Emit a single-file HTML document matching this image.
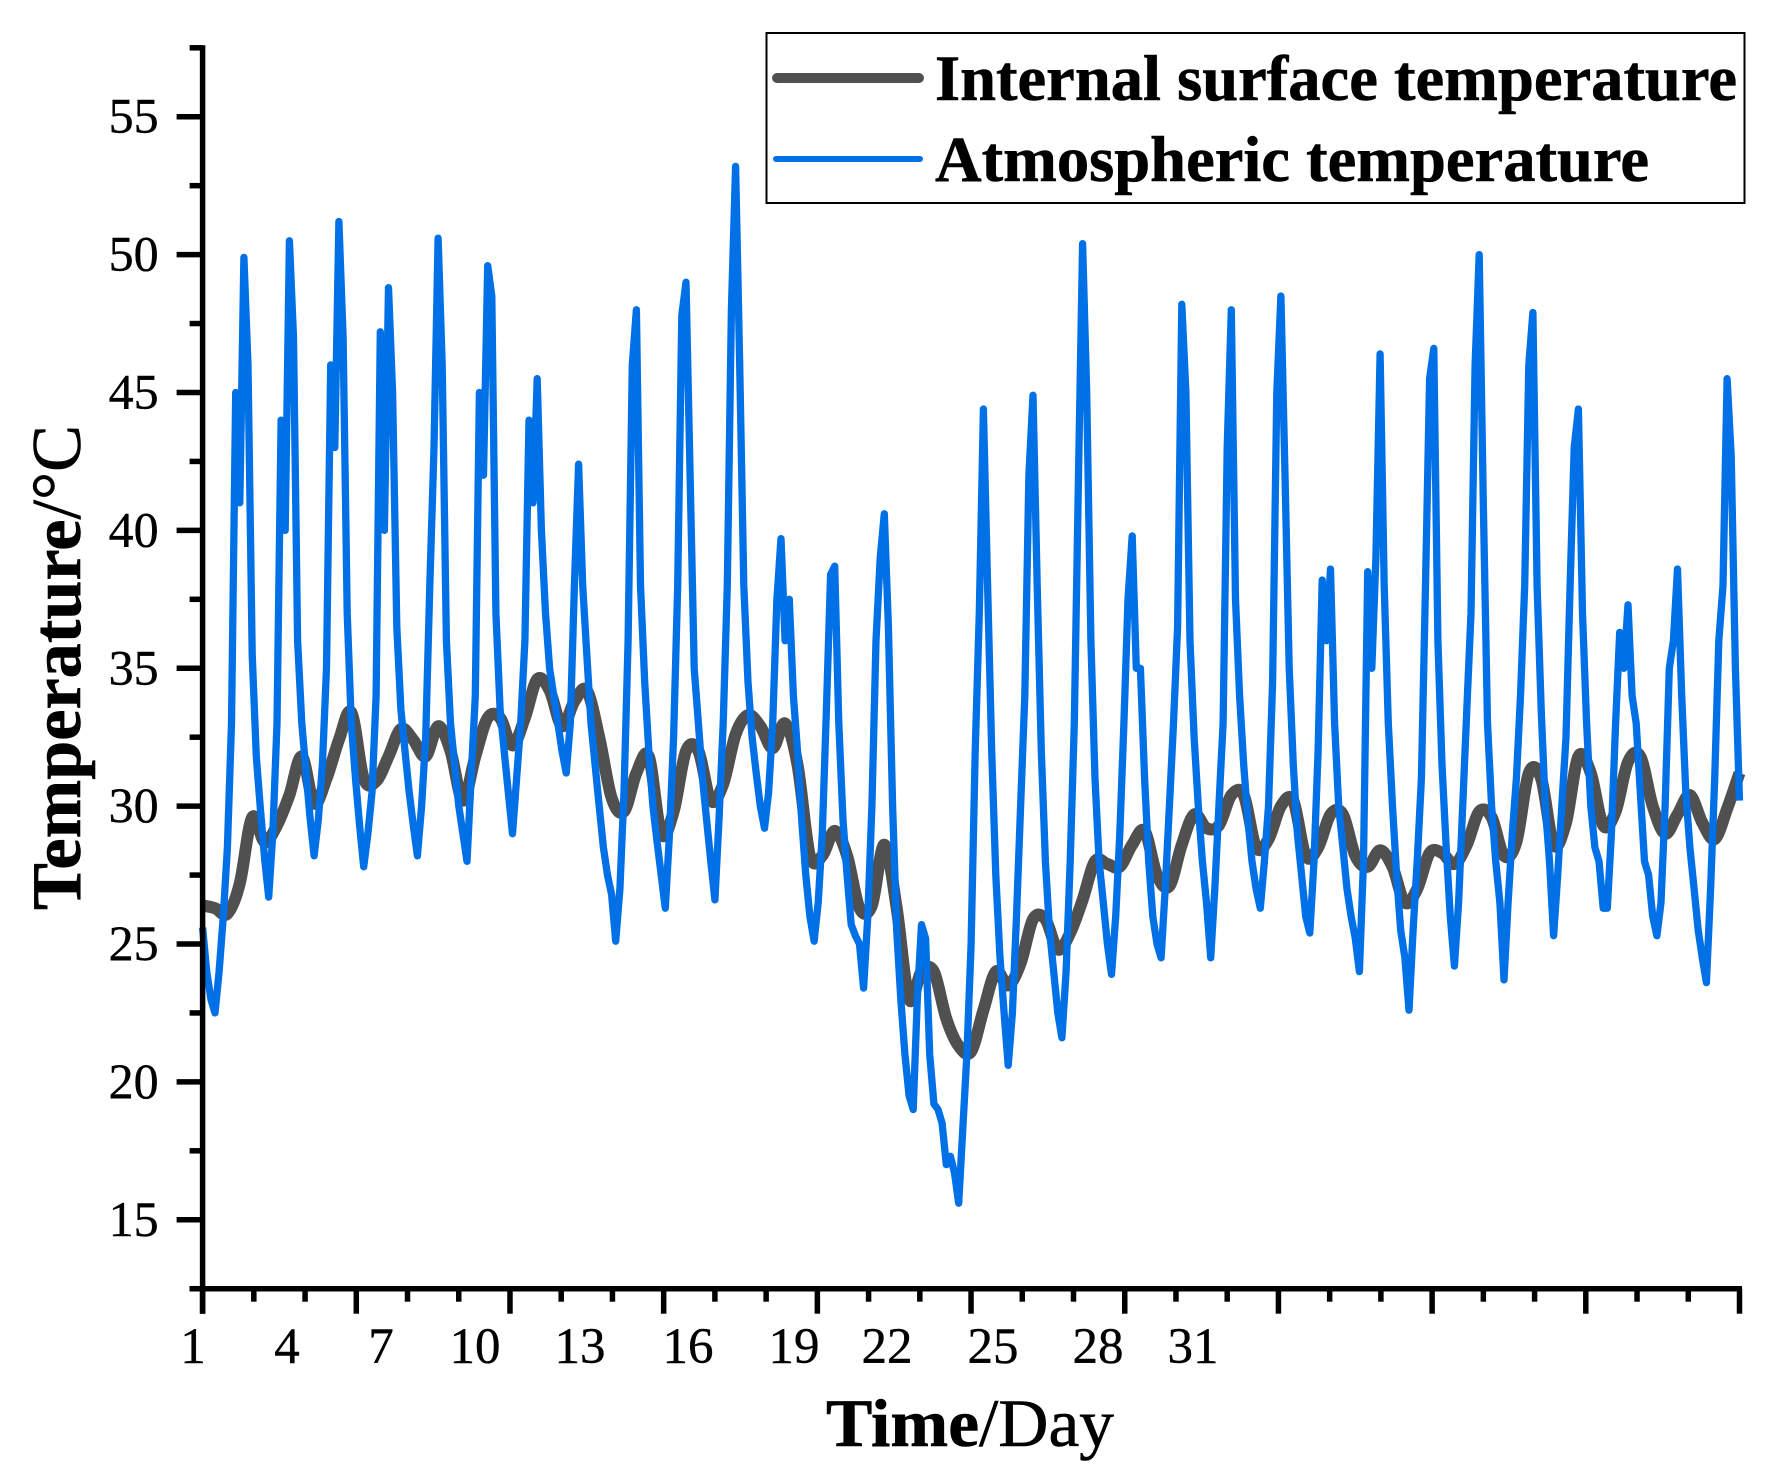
<!DOCTYPE html>
<html lang="en">
<head>
<meta charset="utf-8">
<title>Temperature chart</title>
<style>
html,body{margin:0;padding:0;background:#fff;}
svg{display:block;font-family:"Liberation Serif",serif;}
</style>
</head>
<body>
<svg id="chart" xmlns="http://www.w3.org/2000/svg" width="1785" height="1480" viewBox="0 0 1785 1480">
  <rect x="0" y="0" width="1785" height="1480" fill="#ffffff"/>
  <g id="series"></g>
  <g id="axes"></g>

  <g font-size="51" text-anchor="middle" fill="#000" stroke="#000" stroke-width="0.4">
    <text x="193" y="1363">1</text>
    <text x="287" y="1363">4</text>
    <text x="381" y="1363">7</text>
    <text x="475" y="1363">10</text>
    <text x="580" y="1363">13</text>
    <text x="688" y="1363">16</text>
    <text x="794" y="1363">19</text>
    <text x="887" y="1363">22</text>
    <text x="993" y="1363">25</text>
    <text x="1098" y="1363">28</text>
    <text x="1193" y="1363">31</text>
  </g>

  <text x="826" y="1446" font-size="68" textLength="288" lengthAdjust="spacingAndGlyphs" fill="#000" stroke="#000" stroke-width="0.6"><tspan font-weight="bold">Time</tspan>/Day</text>
  <text transform="translate(80,910) rotate(-90)" x="0" y="0" font-size="70" textLength="485" lengthAdjust="spacingAndGlyphs" fill="#000" stroke="#000" stroke-width="0.6"><tspan font-weight="bold">Temperature</tspan>/°C</text>

  <g>
    <rect x="766.5" y="33" width="978" height="170" fill="#ffffff" stroke="#000" stroke-width="2"/>
    <line x1="777" y1="78" x2="919" y2="78" stroke="#505050" stroke-width="10" stroke-linecap="round"/>
    <text x="935" y="100" font-size="65" font-weight="bold" textLength="802" lengthAdjust="spacingAndGlyphs" fill="#000" stroke="#000" stroke-width="0.6">Internal surface temperature</text>
    <line x1="776" y1="159" x2="920" y2="159" stroke="#0070e6" stroke-width="6" stroke-linecap="round"/>
    <text x="935" y="181" font-size="65" font-weight="bold" textLength="714" lengthAdjust="spacingAndGlyphs" fill="#000" stroke="#000" stroke-width="0.6">Atmospheric temperature</text>
  </g>
</svg>

<script>
// Chart data: temperatures in °C.
const yTickLabels = [15, 20, 25, 30, 35, 40, 45, 50, 55];
const samplesPerDayAtmospheric = 12;
const samplesPerDayInternal = 4;

const atmosphericTemps = [
  25.6,24,23,22.5,24,26,28.5,33,45,41,49.9,46,35.5,31.8,29.9,28.1,26.7,
  29,33,44,40,50.5,47,36,33,31.3,29.6,28.2,
  29.5,31.5,35,46,43,51.2,47,37,33,31,29.3,27.8,
  29,30.5,34,47.2,40,48.8,45,36.5,33.5,32,30.5,29.3,28.2,
  30,32.5,38,43,50.6,46,36,33,31.5,30,29,28,
  31,34,45,42,49.6,48.5,37,33.5,32,30.5,29,
  31,33,36,44,41,45.5,40,37,35,34,33,32,31.2,
  33,38,42.4,38,35.5,33,31.5,30,28.5,27.5,26.8,25.1,
  27,30.5,36,46,48,38,34.5,32,30,28.7,27.5,26.3,
  29,32.5,38,47.8,49,42,35,33,31,29.5,28,26.6,
  29.5,33,38,48,53.2,46,38,34.5,32.5,31.2,30,29.2,
  30.5,33,37.5,39.7,36,37.5,34,32,29.5,27.5,26,25.1,
  26.5,29,33.5,38.4,38.7,33,29.5,27.5,25.7,25.3,25,23.4,
  26,30,36,39,40.6,36.5,30,25.5,23,21,19.5,19,
  23,25.7,25.2,21,19.2,19,18.5,17,17.3,16.7,15.6,18.3,21,
  25,32,37,44.4,38,32,27.5,24.5,22.5,20.6,
  22.5,26,30,34,42,44.9,38,32,28,25.5,24,22.5,21.6,
  24,28,33,42,50.4,45,36,31,28,26.5,25,23.9,
  26,29,33,37.5,39.8,35,35,31,28,26,25,24.5,
  27,30,33,36.5,48.2,45,36,32.5,30,28,26.5,24.5,
  27,30,33,43,48,37.5,34,31.5,29.5,28,27,26.3,
  28,30,34.5,45,48.5,42,35,31.5,29,27.5,26,25.4,
  28,32,38.2,36,38.6,33,30,28.5,27,26,25.2,24,
  28,38.5,35,39,46.4,38,33,30,27.5,25.5,24.5,22.6,
  25.5,28,31,38,45.5,46.6,36,31.5,28.5,26,24.2,
  26.5,30,33.5,37,46,50,41,33,30,28,26.5,23.7,
  26.5,29,31,34,38,46,47.9,38,33.5,30,28,25.3,
  27.5,30,32.5,38,43,44.4,37,33,30,28.5,28,26.3,26.3,
  29,33,36.3,35,37.3,34,33,30.5,28,27.5,26,25.3,
  26.5,30,35,36,38.6,34,30.5,28.5,27,25.5,24.5,23.6,
  27,31,36,38,45.5,42.7,35,30.2
];

const internalTemps = [
  26.4,26.3,26.1,27.2,29.6,28.7,29.3,30.4,31.8,30.1,
  31,32.4,33.4,31,30.9,31.8,32.8,32.4,31.8,32.9,
  32,30.2,31.8,33.2,33.2,32.2,33.2,34.6,34.2,32.9,
  33.8,34.2,32.5,30.3,29.8,31.2,31.8,29,29.8,32,
  32,30.2,30.8,32.6,33.3,32.9,32.1,33,31.5,28.2,
  28.2,29.1,28.2,26.3,26.4,28.6,26.3,23,24,24,
  22.3,21.3,21.1,22.6,24,23.5,24.3,25.9,25.9,24.8,
  25.4,26.6,28,27.9,27.8,28.6,29.1,27.5,27.1,28.6,
  29.7,29.2,29.3,30.4,30.4,28.5,28.8,30,30.2,28.2,
  28.5,29.7,29.7,28.2,27.8,28.4,27.8,26.5,27,28.3,
  28.3,27.9,28.6,29.8,29.6,28.2,28.7,31.2,31,28.6,
  29.4,31.8,31.2,29.3,29.8,31.6,31.8,30,29,29.7,
  30.4,29.4,28.8,29.9,31.2
];

// Axis configuration
const xDomain = [1, 32];
const yDomain = [12.5, 57.5];
const plot = { left: 202.6, right: 1739.5, top: 47.8, bottom: 1288.7 };
const xTickIntervals = 30;
const xMajorEvery = 3;
const yMinorStep = 2.5;

const NS = 'http://www.w3.org/2000/svg';
function xScale(d) {
  return plot.left + (d - xDomain[0]) / (xDomain[1] - xDomain[0]) * (plot.right - plot.left);
}
function yScale(t) {
  return plot.bottom - (t - yDomain[0]) / (yDomain[1] - yDomain[0]) * (plot.bottom - plot.top);
}
function pointsFor(values, perDay) {
  return values.map(function (v, i) {
    return xScale(xDomain[0] + i / perDay).toFixed(1) + ',' + yScale(v).toFixed(1);
  }).join(' ');
}
// Catmull-Rom smoothing through the data points for the slowly varying series
function smoothPath(values, perDay) {
  const pts = values.map(function (v, i) {
    return [xScale(xDomain[0] + i / perDay), yScale(v)];
  });
  let d = 'M' + pts[0][0].toFixed(1) + ' ' + pts[0][1].toFixed(1);
  for (let i = 0; i < pts.length - 1; i++) {
    const p0 = pts[Math.max(i - 1, 0)];
    const p1 = pts[i];
    const p2 = pts[i + 1];
    const p3 = pts[Math.min(i + 2, pts.length - 1)];
    const c1x = p1[0] + (p2[0] - p0[0]) / 6;
    const c1y = p1[1] + (p2[1] - p0[1]) / 6;
    const c2x = p2[0] - (p3[0] - p1[0]) / 6;
    const c2y = p2[1] - (p3[1] - p1[1]) / 6;
    d += 'C' + c1x.toFixed(1) + ' ' + c1y.toFixed(1) + ' ' + c2x.toFixed(1) + ' ' + c2y.toFixed(1) + ' ' + p2[0].toFixed(1) + ' ' + p2[1].toFixed(1);
  }
  return d;
}
function makeLine(x1, y1, x2, y2, w) {
  const l = document.createElementNS(NS, 'line');
  l.setAttribute('x1', x1);
  l.setAttribute('y1', y1);
  l.setAttribute('x2', x2);
  l.setAttribute('y2', y2);
  l.setAttribute('stroke', '#000');
  l.setAttribute('stroke-width', w);
  return l;
}

const seriesLayer = document.getElementById('series');
const axesLayer = document.getElementById('axes');

const internalLine = document.createElementNS(NS, 'path');


internalLine.setAttribute('d', smoothPath(internalTemps, samplesPerDayInternal));
internalLine.setAttribute('fill', 'none');
internalLine.setAttribute('stroke', '#505050');
internalLine.setAttribute('stroke-width', '12');
internalLine.setAttribute('stroke-linejoin', 'round');
seriesLayer.appendChild(internalLine);

const atmosphericLine = document.createElementNS(NS, 'polyline');


atmosphericLine.setAttribute('points', pointsFor(atmosphericTemps, samplesPerDayAtmospheric));
atmosphericLine.setAttribute('fill', 'none');
atmosphericLine.setAttribute('stroke', '#0070e6');
atmosphericLine.setAttribute('stroke-width', '7.3');
atmosphericLine.setAttribute('stroke-linejoin', 'round');
seriesLayer.appendChild(atmosphericLine);

// Axis lines
const yAxisLine = makeLine(plot.left, plot.top - 2.5, plot.left, plot.bottom + 25, 5.5);


axesLayer.appendChild(yAxisLine);

const xAxisLine = makeLine(plot.left - 13, plot.bottom, plot.right + 2.5, plot.bottom, 5.5);


axesLayer.appendChild(xAxisLine);

// Y ticks
for (let t = yDomain[0]; t <= yDomain[1] + 0.001; t += yMinorStep) {
  const isMajor = yTickLabels.indexOf(t) !== -1;
  const tick = makeLine(plot.left - (isMajor ? 26 : 13), yScale(t), plot.left, yScale(t), 5.5);
  
  
  axesLayer.appendChild(tick);
}

// Y tick labels
yTickLabels.forEach(function (v) {
  const label = document.createElementNS(NS, 'text');
  
  
  label.setAttribute('x', plot.left - 44);
  label.setAttribute('y', yScale(v) + 16);
  label.setAttribute('text-anchor', 'end');
  label.setAttribute('font-size', '50');
  label.setAttribute('fill', '#000');
  label.setAttribute('stroke', '#000');
  label.setAttribute('stroke-width', '0.4');
  label.textContent = v;
  axesLayer.appendChild(label);
});

// X ticks
for (let k = 0; k <= xTickIntervals; k++) {
  const d = xDomain[0] + k * (xDomain[1] - xDomain[0]) / xTickIntervals;
  const isMajor = k % xMajorEvery === 0;
  const tick = makeLine(xScale(d), plot.bottom, xScale(d), plot.bottom + (isMajor ? 25 : 13), 5.5);
  
  
  axesLayer.appendChild(tick);
}
</script>
</body>
</html>
